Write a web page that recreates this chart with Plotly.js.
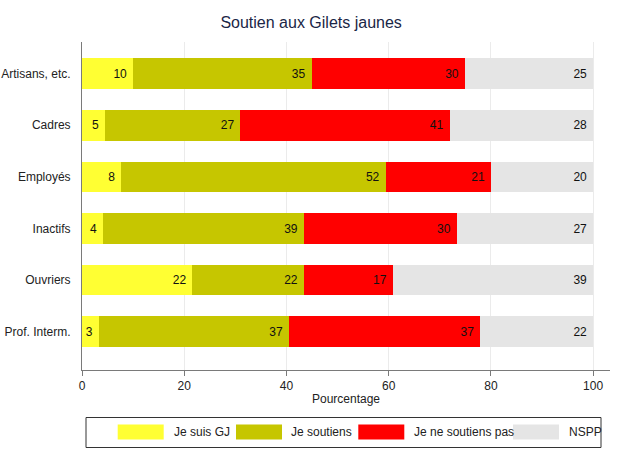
<!DOCTYPE html>
<html>
<head>
<meta charset="utf-8">
<script src="https://cdn.plot.ly/plotly-3.0.1.min.js"></script>
<style>html,body{margin:0;padding:0;background:#fff;}#chart{width:627px;height:450px;}</style>
</head>
<body>
<div id="chart"></div>
<script>
// ---- data ----
const categories = ["Artisans, etc.", "Cadres", "Employés", "Inactifs", "Ouvriers", "Prof. Interm."];
const seriesNames = ["Je suis GJ", "Je soutiens", "Je ne soutiens pas", "NSPP"];
const jeSuisGJ    = [10.0, 4.5, 7.7, 4.1, 21.6, 3.3];
const jeSoutiens  = [34.9, 26.5, 51.7, 39.3, 21.8, 37.2];
const neSoutienPas= [30.0, 40.9, 20.6, 29.9, 17.4, 37.4];
const nspp        = [25.1, 28.1, 20.0, 26.7, 39.2, 22.1];
const xTicks = [0, 20, 40, 60, 80, 100];

// ---- styles ----
const colors = ["#ffff33", "#c6c600", "#ff0000", "#e5e5e5"];
const FONT = "Liberation Sans, Arial, sans-serif";
const allSeries = [jeSuisGJ, jeSoutiens, neSoutienPas, nspp];

const traces = allSeries.map((vals, i) => ({
  type: "bar",
  orientation: "h",
  name: seriesNames[i],
  y: categories,
  x: vals,
  marker: {color: colors[i], line: {width: 0}},
  texttemplate: "%{x:.0f}\u00a0",
  textposition: "inside",
  insidetextanchor: "end",
  constraintext: "none",
  textfont: {family: FONT, size: 12, color: "#111"},
  hoverinfo: "skip",
  showlegend: false
}));

// plot area geometry (pixels)
const W = 627, H = 450, ML = 82, MR = 17, MT = 42, MB = 80;
const PW = W - ML - MR, PH = H - MT - MB;
const px = x => (x - ML) / PW;
const py = y => (H - MB - y) / PH;

// custom legend
const shapes = [{
  type: "rect", xref: "paper", yref: "paper",
  x0: px(86), x1: px(601), y0: py(447.5), y1: py(417.5),
  line: {color: "#333", width: 1}, fillcolor: "rgba(0,0,0,0)"
}];
const swatchX = [117.7, 236, 358.3, 513];
const labelX = [171.7, 289.3, 411.7, 566.7];
const annotations = [];
seriesNames.forEach((n, i) => {
  shapes.push({
    type: "rect", xref: "paper", yref: "paper",
    x0: px(swatchX[i]), x1: px(swatchX[i] + 46), y0: py(439.5), y1: py(424.5),
    line: {width: 0}, fillcolor: colors[i], layer: "above"
  });
  annotations.push({
    xref: "paper", yref: "paper", x: px(labelX[i]), y: py(432),
    xanchor: "left", yanchor: "middle", showarrow: false, text: n,
    font: {family: FONT, size: 12, color: "#222"}
  });
});

const layout = {
  width: W, height: H,
  margin: {l: ML, r: MR, t: MT, b: MB, pad: 0},
  paper_bgcolor: "#fff", plot_bgcolor: "#fff",
  barmode: "stack",
  bargap: 0.405,
  title: {text: "Soutien aux Gilets jaunes", x: px(344), xanchor: "center", y: 1 - 22.5 / H, yanchor: "middle",
          font: {family: FONT, size: 16, color: "#1a2646"}},
  xaxis: {
    range: [0, 103.3], tickvals: xTicks, ticktext: xTicks.map(String),
    showgrid: true, gridcolor: "#ebebeb", gridwidth: 1,
    zeroline: false, showline: true, linecolor: "#7a7a7a", linewidth: 1,
    ticks: "outside", ticklen: 5, tickcolor: "#7a7a7a",
    tickfont: {family: FONT, size: 12, color: "#222"},
    title: {text: "Pourcentage", standoff: 2, font: {family: FONT, size: 12, color: "#222"}},
    fixedrange: true
  },
  yaxis: {
    type: "category", categoryorder: "array", categoryarray: categories,
    range: [5.742, -0.614],
    showgrid: false, zeroline: false, showline: true, linecolor: "#7a7a7a", linewidth: 1,
    ticks: "", ticklabelstandoff: 8,
    tickfont: {family: FONT, size: 12, color: "#222"},
    fixedrange: true
  },
  shapes: shapes,
  annotations: annotations,
  showlegend: false,
  font: {family: FONT}
};

Plotly.newPlot("chart", traces, layout, {displayModeBar: false, staticPlot: true});
</script>
</body>
</html>
